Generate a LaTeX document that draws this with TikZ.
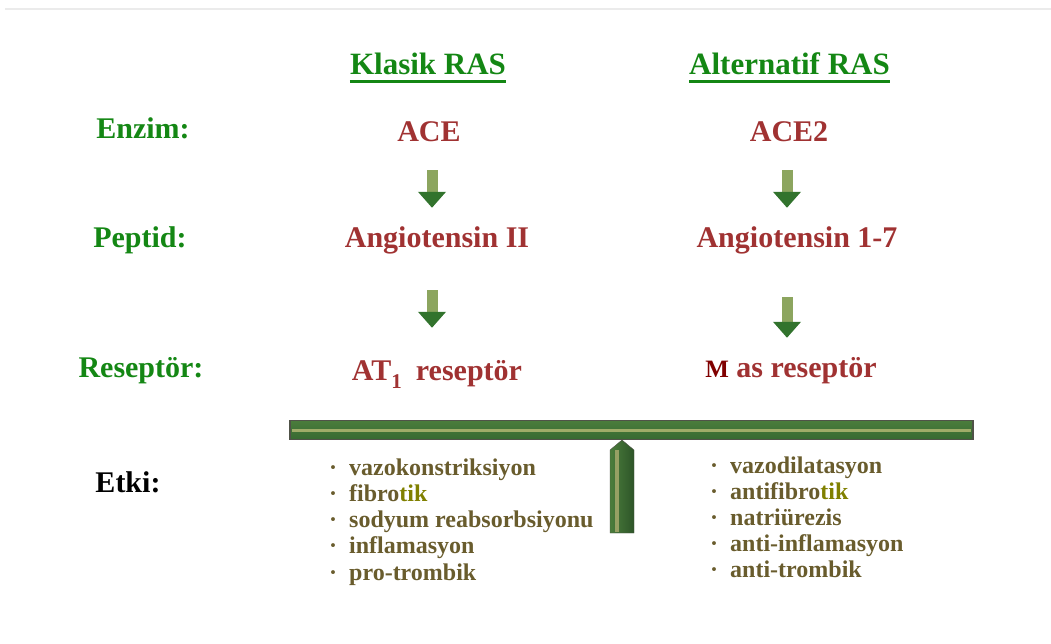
\documentclass[tikz,border=0pt]{standalone}
\usepackage{fontspec}
\setmainfont{Liberation Serif}
\usetikzlibrary{arrows.meta,calc}

\definecolor{labgreen}{RGB}{20,135,20}
\definecolor{labred}{RGB}{160,50,50}
\definecolor{masred}{RGB}{128,0,0}
\definecolor{listbrown}{RGB}{105,92,45}
\definecolor{tikolive}{RGB}{128,128,0}
\definecolor{shaftgreen}{RGB}{140,165,95}
\definecolor{headgreen}{RGB}{50,115,45}
\definecolor{beamedge}{RGB}{80,82,72}
\definecolor{beamtop}{RGB}{75,125,60}
\definecolor{beamlight}{RGB}{160,172,105}
\definecolor{beamdark}{RGB}{55,105,50}
\definecolor{standlight}{RGB}{150,160,100}
\definecolor{standdark}{RGB}{45,85,40}

\begin{document}
\begin{tikzpicture}[x=1pt,y=-1pt,
    rowlabel/.style={font=\fontsize{30}{36}\selectfont\bfseries,text=labgreen,
        inner sep=0pt,anchor=base,text height=22pt,text depth=7pt},
    heading/.style={rowlabel,font=\fontsize{31}{36}\selectfont\bfseries},
    molecule/.style={rowlabel,text=labred},
    effect/.style={font=\fontsize{24}{28}\selectfont\bfseries,text=listbrown,
        inner sep=0pt,anchor=base west},
    flowarrow/.style={draw=shaftgreen,line width=11pt,
        -{Triangle[width=27pt,length=16pt,color=headgreen]}}]
    \useasboundingbox (0,0) rectangle (1051,643);
    \draw[black!8,line width=2pt] (5,9) -- (1051,9);

    % column headings
    \node[heading] (klasik) at (428,74) {Klasik RAS};
    \node[heading] (alternatif) at (789.5,74) {Alternatif RAS};
    \draw[labgreen,line width=3pt] (klasik.south west) -- (klasik.south east);
    \draw[labgreen,line width=3pt] (alternatif.south west) -- (alternatif.south east);

    % row labels
    \node[rowlabel] (enzim) at (143,138) {Enzim:};
    \node[rowlabel] (peptid) at (140,247) {Peptid:};
    \node[rowlabel] (reseptor) at (141,377) {Reseptör:};
    \node[rowlabel,text=black] (etki) at (128,492) {Etki:};

    % classic pathway
    \node[molecule] (ace) at (429,141) {ACE};
    \node[molecule] (angII) at (437,247) {Angiotensin II};
    \node[molecule] (at1) at (437,380) {AT\raisebox{-8pt}{\fontsize{21}{21}\selectfont 1}\hspace{14pt}reseptör};

    % alternative pathway
    \node[molecule] (ace2) at (789,141) {ACE2};
    \node[molecule] (ang17) at (797,247) {Angiotensin 1-7};
    \node[molecule] (mas) at (791,377) {{\color{masred}\fontsize{25}{25}\selectfont M} as reseptör};

    \coordinate (colL) at (432,0);
    \coordinate (colR) at (787,0);
    \draw[flowarrow,shorten <=22pt,shorten >=17pt] (ace.south -| colL) -- (angII.north -| colL);
    \draw[flowarrow,shorten <=36pt,shorten >=30pt] (angII.south -| colL) -- (at1.north -| colL);
    \draw[flowarrow,shorten <=22pt,shorten >=17pt] (ace2.south -| colR) -- (ang17.north -| colR);
    \draw[flowarrow,shorten <=43pt,shorten >=17pt] (ang17.south -| colR) -- (mas.north -| colR);

    % balance beam
    \node[rectangle,minimum width=683pt,minimum height=19pt,inner sep=0pt,
        draw=beamedge,line width=1.5pt,top color=beamtop,bottom color=beamdark] (beam) at (631.5,430) {};
    \draw[beamlight,line width=3pt] ([xshift=3pt]beam.west) -- ([xshift=-3pt]beam.east);
    \shade[left color=beamtop,right color=standdark,draw=beamedge]
        (610,450) -- (622,440) -- (634,450) -- (634,533) -- (610,533) -- cycle;
    \draw[standlight,line width=4pt] (617,450) -- (617,532);

    % effects
    \foreach \txt [count=\i] in {vazokonstriksiyon,fibro\textcolor{tikolive}{tik},
        sodyum reabsorbsiyonu,inflamasyon,pro-trombik}
        \node[effect] (klasik\i) at (329,{475+26.3*(\i-1)}) {·\hspace{12pt}\txt};
    \foreach \txt [count=\i] in {vazodilatasyon,antifibro\textcolor{tikolive}{tik},
        natriürezis,anti-inflamasyon,anti-trombik}
        \node[effect] (alternatif\i) at (710,{473+26*(\i-1)}) {·\hspace{12pt}\txt};
\end{tikzpicture}
\end{document}
